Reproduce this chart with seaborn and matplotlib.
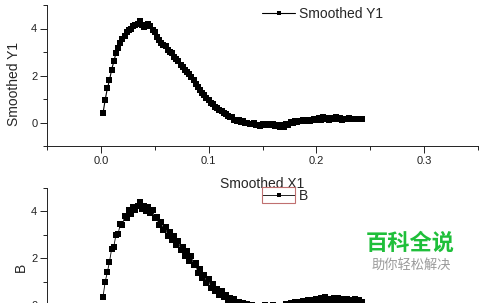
import matplotlib
matplotlib.use("Agg")
import matplotlib.pyplot as plt
from matplotlib.ticker import MultipleLocator, FormatStrFormatter
from matplotlib.patches import Rectangle
import pandas as pd
import seaborn as sns

x_vals = [0.002, 0.004, 0.006, 0.008, 0.010, 0.012, 0.014, 0.016, 0.018, 0.020,
          0.022, 0.024, 0.026, 0.028, 0.030, 0.032, 0.034, 0.036, 0.038, 0.040,
          0.042, 0.044, 0.046, 0.048, 0.050, 0.052, 0.054, 0.056, 0.058, 0.060,
          0.062, 0.064, 0.066, 0.068, 0.070, 0.072, 0.074, 0.076, 0.078, 0.080,
          0.082, 0.084, 0.086, 0.088, 0.090, 0.092, 0.094, 0.096, 0.098, 0.100,
          0.102, 0.104, 0.106, 0.108, 0.110, 0.112, 0.114, 0.116, 0.118, 0.120,
          0.122, 0.124, 0.126, 0.128, 0.130, 0.132, 0.134, 0.136, 0.138, 0.140,
          0.142, 0.144, 0.146, 0.148, 0.150, 0.152, 0.154, 0.156, 0.158, 0.160,
          0.162, 0.164, 0.166, 0.168, 0.170, 0.172, 0.174, 0.176, 0.178, 0.180,
          0.182, 0.184, 0.186, 0.188, 0.190, 0.192, 0.194, 0.196, 0.198, 0.200,
          0.202, 0.204, 0.206, 0.208, 0.210, 0.212, 0.214, 0.216, 0.218, 0.220,
          0.222, 0.224, 0.226, 0.228, 0.230, 0.232, 0.234, 0.236, 0.238, 0.240,
          0.242]

smoothed_y1 = [0.40, 0.97, 1.45, 1.80, 2.25, 2.60, 2.95, 3.15, 3.40, 3.55,
               3.70, 3.85, 3.95, 4.00, 4.10, 4.15, 4.20, 4.30, 4.15, 4.08,
               4.10, 4.18, 4.10, 3.95, 3.85, 3.65, 3.50, 3.40, 3.30, 3.25,
               3.10, 3.00, 2.95, 2.80, 2.70, 2.60, 2.45, 2.35, 2.25, 2.15,
               2.05, 1.95, 1.80, 1.65, 1.50, 1.40, 1.25, 1.15, 1.05, 0.95,
               0.85, 0.78, 0.68, 0.62, 0.55, 0.50, 0.42, 0.35, 0.28, 0.22,
               0.22, 0.12, 0.08, 0.10, 0.02, 0.05, -0.02, 0.00, -0.05, -0.08,
               -0.04, -0.12, -0.10, -0.15, -0.08, -0.12, -0.10, -0.05, -0.12, -0.08,
               -0.15, -0.10, -0.20, -0.12, -0.18, -0.05, -0.10, 0.02, 0.00, 0.05,
               0.02, 0.08, 0.05, 0.10, 0.06, 0.12, 0.08, 0.10, 0.15, 0.10,
               0.20, 0.12, 0.25, 0.15, 0.18, 0.12, 0.20, 0.15, 0.22, 0.15,
               0.18, 0.12, 0.16, 0.14, 0.18, 0.13, 0.15, 0.14, 0.16, 0.15,
               0.15]

b_vals = [0.35, 1.00, 1.40, 1.85, 2.40, 2.50, 3.00, 3.05, 3.45, 3.40,
          3.80, 3.70, 4.05, 3.90, 4.20, 4.05, 4.25, 4.40, 4.10, 4.25,
          4.00, 4.20, 3.95, 4.05, 3.70, 3.75, 3.40, 3.55, 3.20, 3.35,
          2.95, 3.10, 2.80, 2.95, 2.55, 2.75, 2.35, 2.50, 2.10, 2.30,
          1.90, 2.10, 1.70, 1.80, 1.35, 1.55, 1.15, 1.30, 0.95, 1.10,
          0.75, 0.90, 0.60, 0.70, 0.45, 0.60, 0.35, 0.45, 0.20, 0.30,
          0.15, 0.25, 0.05, 0.15, -0.05, 0.10, -0.10, 0.05, -0.12, 0.02,
          -0.15, -0.05, -0.20, -0.05, -0.15, 0.00, -0.20, -0.08, -0.15, 0.02,
          -0.22, -0.05, -0.25, -0.02, -0.20, 0.05, -0.15, 0.10, -0.05, 0.12,
          -0.02, 0.15, 0.00, 0.18, 0.02, 0.20, 0.05, 0.22, 0.08, 0.25,
          0.05, 0.30, 0.10, 0.35, 0.08, 0.28, 0.12, 0.32, 0.05, 0.30,
          0.10, 0.25, 0.05, 0.28, 0.08, 0.22, 0.10, 0.25, 0.12, 0.20,
          0.15]

x_ticks = [0.0, 0.1, 0.2, 0.3]
y_ticks = [0, 2, 4]

df = pd.DataFrame({"x": x_vals, "y1": smoothed_y1, "b": b_vals})

sns.set_style("ticks")
plt.rcParams["font.family"] = ["Liberation Sans", "Noto Sans CJK SC", "DejaVu Sans"]

W, H = 500, 303
fig = plt.figure(figsize=(5.0, 3.03), dpi=100)

def px_axes(left, right, top, bottom):
    return fig.add_axes([left / W, 1 - bottom / H, (right - left) / W, (bottom - top) / H])

ax1 = px_axes(47, 478, 5, 146)
ax2 = px_axes(47, 478, 188, 328.5)

def style_axis(ax):
    ax.set_xlim(-0.05, 0.35)
    ax.set_ylim(-1, 5)
    ax.set_xticks(x_ticks)
    ax.set_yticks(y_ticks)
    ax.xaxis.set_minor_locator(MultipleLocator(0.05))
    ax.yaxis.set_minor_locator(MultipleLocator(1))
    ax.xaxis.set_major_formatter(FormatStrFormatter("%.1f"))
    ax.yaxis.set_major_formatter(FormatStrFormatter("%d"))
    ax.tick_params(which="major", direction="out", length=5, width=0.7,
                   colors="#222222", labelsize=8, pad=2)
    ax.tick_params(which="minor", direction="out", length=3, width=0.7,
                   colors="#222222")
    for s in ["top", "right"]:
        ax.spines[s].set_visible(False)
    for s in ["left", "bottom"]:
        ax.spines[s].set_linewidth(0.7)
        ax.spines[s].set_color("#222222")

sns.lineplot(data=df, x="x", y="y1", ax=ax1, color="black", linewidth=0.8,
             marker="s", markersize=4.2, markeredgewidth=0, label="Smoothed Y1",
             estimator=None, sort=False)
style_axis(ax1)
ax1.set_xlabel("Smoothed X1", fontsize=10, labelpad=8)
ax1.set_ylabel("Smoothed Y1", fontsize=10)
ax1.yaxis.set_label_coords(-0.060, 0.44)
ax1.legend(loc="center left", bbox_to_anchor=(0.499, 0.936), frameon=False,
           fontsize=10, handlelength=2.4, handletextpad=0.25, borderpad=0,
           borderaxespad=0, markerscale=0.65)

sns.lineplot(data=df, x="x", y="b", ax=ax2, color="black", linewidth=0.6,
             marker="s", markersize=4.2, markeredgewidth=0, label="B",
             estimator=None, sort=False)
style_axis(ax2)
ax2.tick_params(axis="x", which="both", labelbottom=False)
ax2.set_xlabel("")
ax2.set_ylabel("B", fontsize=10)
ax2.yaxis.set_label_coords(-0.044, 0.438)
ax2.legend(loc="center left", bbox_to_anchor=(0.499, 0.945), frameon=False,
           fontsize=10, handlelength=2.4, handletextpad=0.25, borderpad=0,
           borderaxespad=0, markerscale=0.65)

fig.add_artist(Rectangle((262 / W, 1 - 203 / H), 33 / W, 16 / H,
                         transform=fig.transFigure, fill=False,
                         edgecolor="#c07070", linewidth=0.8))

fig.text(410 / W, 1 - 243 / H, "百科全说", color="#1fbf3a", fontsize=16,
         fontweight="bold", ha="center", va="center",
         family=["Noto Sans CJK SC", "DejaVu Sans"])
fig.text(411 / W, 1 - 265 / H, "助你轻松解决", color="#9a9a9a", fontsize=9.5,
         ha="center", va="center", family=["Noto Sans CJK SC", "DejaVu Sans"])

fig.savefig("out.png", dpi=100)
